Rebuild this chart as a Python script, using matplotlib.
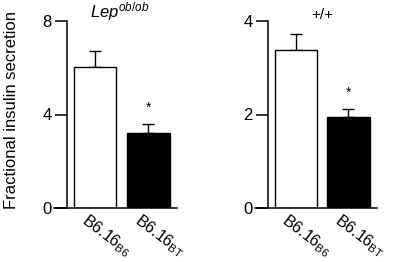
import matplotlib
matplotlib.use("Agg")
import matplotlib.pyplot as plt
from matplotlib.transforms import ScaledTranslation

plt.rcParams['font.family'] = ['Liberation Sans', 'DejaVu Sans']
plt.rcParams['mathtext.fontset'] = 'custom'
plt.rcParams['mathtext.rm'] = 'Liberation Sans'
plt.rcParams['mathtext.it'] = 'Liberation Sans:italic'

strain_base = 'B6.16'
strain_subs = ['B6', 'BT']
bar_colors = ['white', 'black']

lep_means = [6.05, 3.22]
lep_err = [0.65, 0.38]
lep_ticks = [0, 4, 8]

wt_means = [3.38, 1.95]
wt_err = [0.35, 0.17]
wt_ticks = [0, 2, 4]

panel_titles = [r'$Lep^{ob/ob}$', '+/+']
ylabel = 'Fractional insulin secretion'

W, H = 401, 262
fig = plt.figure(figsize=(W / 100, H / 100), dpi=100)

def px_axes(x0, x1, y_top, y_bot):
    return fig.add_axes([x0 / W, 1 - y_bot / H, (x1 - x0) / W, (y_bot - y_top) / H])

panels = [
    (px_axes(54, 177, 21, 208), lep_means, lep_err, lep_ticks, panel_titles[0]),
    (px_axes(255, 377, 21, 208), wt_means, wt_err, wt_ticks, panel_titles[1]),
]

for ax, means, errs, ticks, title in panels:
    x = list(range(len(means)))
    ax.bar(x, means, width=0.8, color=bar_colors, edgecolor='black', linewidth=1.0, zorder=2)
    ax.errorbar(x, means, yerr=[[0] * len(errs), errs], fmt='none', ecolor='black',
                elinewidth=1.0, capsize=4, capthick=1.0, zorder=1)
    ymax = ticks[-1]
    ax.set_ylim(0, ymax)
    ax.set_xlim(-0.77, 1.54)
    ax.set_yticks(ticks)
    ax.spines['left'].set_position(('data', -0.53))
    for s in ['top', 'right']:
        ax.spines[s].set_visible(False)
    ax.spines['left'].set_linewidth(1.1)
    ax.spines['bottom'].set_linewidth(1.1)
    ax.tick_params(axis='y', length=9, width=1.1, labelsize=12, pad=2)
    ax.set_xticks(x)
    ax.set_xticklabels([strain_base + r'$_{\mathregular{%s}}$' % s for s in strain_subs],
                       rotation=-37, ha='left', va='top', rotation_mode='anchor', fontsize=11.5)
    ax.tick_params(axis='x', length=0, pad=2)
    off = ScaledTranslation(-6 / 100, 0, fig.dpi_scale_trans)
    for lab in ax.get_xticklabels():
        lab.set_transform(lab.get_transform() + off)
    # significance star above second bar
    ax.text(1, means[1] + errs[1] + ymax * 0.05, '*', ha='center', va='bottom', fontsize=10)

fig.text(120 / W, 1 - 12 / H, panel_titles[0], ha='center', va='center', fontsize=12)
fig.text(322 / W, 1 - 15 / H, panel_titles[1], ha='center', va='center', fontsize=11)
fig.text(12 / W, 1 - 110 / H, ylabel, rotation=90, ha='center', va='center', fontsize=12)

fig.savefig('out.png', dpi=100)
